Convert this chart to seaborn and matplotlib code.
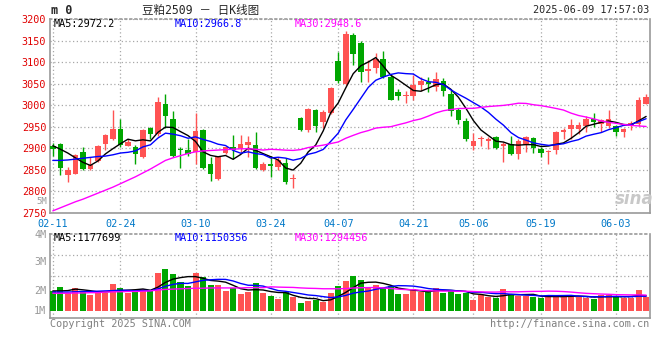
import numpy as np
import pandas as pd
import matplotlib
matplotlib.use("Agg")
import matplotlib.pyplot as plt
import seaborn as sns

# daily K data for 豆粕2509, 2025-02-11 .. 2025-06-09 (80 trading days)
opens = [2905, 2911, 2837, 2841, 2892, 2851, 2870, 2910, 2921, 2946,
         2906, 2904, 2879, 2947, 2933, 3003, 2969, 2899, 2895, 2891,
         2942, 2864, 2828, 2889, 2904, 2900, 2908, 2908, 2850, 2863,
         2857, 2866, 2828, 2971, 2942, 2988, 2962, 2982, 3102, 3049,
         3164, 3144, 3080, 3087, 3108, 3066, 3030, 3022, 3021, 3047,
         3055, 3043, 3056, 3027, 2988, 2963, 2906, 2921, 2918, 2927,
         2906, 2911, 2886, 2908, 2924, 2898, 2891, 2896, 2939, 2944,
         2944, 2952, 2969, 2957, 2952, 2952, 2939, 2952, 2956, 3003]
closes = [2898, 2855, 2849, 2885, 2851, 2862, 2906, 2931, 2946, 2908,
          2915, 2887, 2943, 2933, 3008, 2975, 2883, 2895, 2887, 2940,
          2855, 2841, 2879, 2902, 2896, 2910, 2914, 2855, 2864, 2860,
          2872, 2821, 2831, 2942, 2992, 2952, 2985, 3041, 3056, 3166,
          3118, 3076, 3085, 3108, 3066, 3013, 3021, 3024, 3047, 3057,
          3049, 3061, 3032, 2986, 2965, 2921, 2918, 2923, 2921, 2900,
          2911, 2887, 2918, 2927, 2900, 2889, 2893, 2938, 2943, 2953,
          2953, 2969, 2961, 2965, 2969, 2937, 2944, 2958, 3011, 3020]
highs = [2912, 2913, 2857, 2887, 2902, 2879, 2908, 2934, 2988, 2967,
         2921, 2908, 2944, 2950, 3018, 3027, 2986, 2902, 2921, 2981,
         2946, 2879, 2881, 2904, 2931, 2931, 2929, 2937, 2868, 2883,
         2881, 2877, 2840, 2973, 2994, 2992, 2988, 3043, 3124, 3172,
         3168, 3149, 3105, 3120, 3125, 3070, 3038, 3032, 3070, 3066,
         3066, 3078, 3064, 3036, 2994, 2971, 2935, 2929, 2927, 2929,
         2914, 2929, 2921, 2929, 2927, 2902, 2895, 2940, 2948, 2969,
         2960, 2976, 2981, 2969, 2988, 2953, 2948, 2963, 3018, 3026]
lows = [2882, 2837, 2822, 2840, 2849, 2849, 2868, 2895, 2920, 2902,
        2905, 2864, 2878, 2921, 2929, 2948, 2881, 2855, 2883, 2864,
        2853, 2824, 2826, 2887, 2876, 2891, 2881, 2853, 2847, 2834,
        2849, 2818, 2809, 2940, 2939, 2937, 2947, 2980, 3051, 3046,
        3093, 3053, 3055, 3074, 3063, 3011, 3013, 3005, 3013, 3032,
        3031, 3034, 3021, 2975, 2956, 2918, 2897, 2906, 2899, 2899,
        2868, 2885, 2876, 2891, 2889, 2879, 2863, 2887, 2921, 2921,
        2934, 2939, 2950, 2937, 2948, 2929, 2927, 2942, 2952, 3002]
# volume in millions, as read against the chart's M scale
volumes = [1.98, 2.11, 1.91, 2.06, 1.97, 1.83, 1.91, 1.91, 2.19, 2.06,
           1.91, 1.98, 2.03, 1.98, 2.59, 2.71, 2.54, 2.28, 2.15, 2.59,
           2.43, 2.17, 2.17, 1.97, 2.06, 1.86, 1.94, 2.23, 1.91, 1.80,
           1.70, 1.92, 1.77, 1.57, 1.61, 1.66, 1.58, 1.91, 2.14, 2.30,
           2.47, 2.34, 2.06, 2.17, 2.08, 2.15, 1.86, 1.86, 2.03, 1.94,
           2.00, 2.08, 1.91, 2.00, 1.86, 1.91, 1.66, 1.83, 1.77, 1.74,
           2.03, 1.86, 1.80, 1.80, 1.77, 1.72, 1.80, 1.80, 1.80, 1.80,
           1.77, 1.74, 1.70, 1.83, 1.83, 1.77, 1.74, 1.74, 2.00, 1.77]

# moving-average values before enough history is on screen
ma5_head = [2906, 2898, 2889, 2878]
ma10_head = [2872, 2872, 2873, 2875, 2877, 2879, 2881, 2882, 2885]
ma30_head = [2755, 2762, 2769, 2776, 2782, 2789, 2796, 2803, 2810, 2818,
             2826, 2834, 2843, 2852, 2862, 2872, 2878, 2883, 2888, 2892,
             2894, 2895, 2896, 2897, 2898, 2899, 2899, 2898, 2896]
vma5_head = [1.97, 1.97, 1.98, 2.03]
vma10_head = [1.93, 1.93, 1.93, 1.94, 1.95, 1.95, 1.96, 1.97, 1.98]
vma30_head = [1.89, 1.89, 1.89, 1.90, 1.90, 1.91, 1.91, 1.93, 1.94, 1.94,
              1.95, 1.95, 1.96, 1.97, 2.00, 2.02, 2.03, 2.04, 2.05, 2.06,
              2.06, 2.07, 2.07, 2.07, 2.07, 2.07, 2.08, 2.08, 2.08]

date_pos = [0, 9, 19, 29, 38, 48, 56, 65, 75]
date_labels = ['02-11', '02-24', '03-10', '03-24', '04-07', '04-21', '05-06', '05-19', '06-03']
price_ticks = [2750, 2800, 2850, 2900, 2950, 3000, 3050, 3100, 3150, 3200]


def with_head(values, n, head):
    ma = pd.Series(values, dtype=float).rolling(n).mean()
    ma.iloc[:len(head)] = head
    return ma.values


df = pd.DataFrame({'open': opens, 'close': closes, 'high': highs, 'low': lows, 'vol': volumes})
df['i'] = np.arange(len(df))
df['up'] = df['close'] >= df['open']

RED, GREEN = '#FF5353', '#00A600'
MAC = {'MA5': 'black', 'MA10': '#0000FF', 'MA30': '#FF00FF'}
GRID = '#A8A8A8'

sns.set_style('white')
plt.rcParams['font.family'] = ['DejaVu Sans Mono', 'Noto Sans CJK SC']

W, H = 660, 360
fig = plt.figure(figsize=(W / 100, H / 100), dpi=100)


def rect(l, t, r, b):
    return [l / W, 1 - b / H, (r - l) / W, (b - t) / H]


def px(x, y):
    return x / W, 1 - y / H


ax = fig.add_axes(rect(50.5, 19, 649.5, 213))
axv = fig.add_axes(rect(50.5, 234, 649.5, 318))
xlim = (-0.31, 79.45)

# --- candles
colors = np.where(df['up'], RED, GREEN)
ax.vlines(df['i'], df['low'], df['high'], colors=colors, lw=1, zorder=3)
body = (df['close'] - df['open']).abs().clip(lower=1.5)
ax.bar(df['i'], body, bottom=df[['open', 'close']].min(axis=1), width=0.75,
       color=colors, linewidth=0, zorder=4)

for name, n, head in [('MA5', 5, ma5_head), ('MA10', 10, ma10_head), ('MA30', 30, ma30_head)]:
    sns.lineplot(x=df['i'], y=with_head(closes, n, head), ax=ax, color=MAC[name], lw=1, zorder=5)

ax.set_xlim(*xlim)
ax.set_ylim(2750, 3200)
ax.set_yticks(price_ticks)
ax.set_yticklabels([str(t) for t in price_ticks], color='#E00000', fontsize=7.3)
ax.set_xticks(date_pos)
ax.set_xticklabels(date_labels, color='#0078C8', fontsize=7.3)
ax.tick_params(length=0, pad=3)
ax.tick_params(axis='x', pad=4)
ax.set_xlabel('')
ax.set_ylabel('')
ax.grid(True, color=GRID, ls=(0, (1, 2)), lw=0.9)
for s in ax.spines.values():
    s.set_color('#9A9A9A')
    s.set_linewidth(1.2)
ax.spines['top'].set_linestyle((0, (1, 2)))

# --- volume
vol_base = 1.30
vcolors = np.where(df['up'], RED, GREEN)
axv.bar(df['i'], df['vol'] - vol_base, bottom=vol_base, width=0.8, color=vcolors, linewidth=0, zorder=3)
for name, n, head in [('MA5', 5, vma5_head), ('MA10', 10, vma10_head), ('MA30', 30, vma30_head)]:
    sns.lineplot(x=df['i'], y=with_head(volumes, n, head), ax=axv, color=MAC[name], lw=1, zorder=5)

vlo, vhi = 1.05, 3.90
axv.set_xlim(*xlim)
axv.set_ylim(vlo, vhi)
axv.set_yticks([1.32, 2, 3, 3.9])
axv.set_yticklabels(['1M', '2M', '3M', '4M'], color='#999999', fontsize=7.3)
axv.set_yticks([vlo + (vhi - vlo) * k / 4 for k in (1, 2, 3)], minor=True)
axv.set_xticks(date_pos)
axv.set_xticklabels([])
axv.tick_params(which='both', length=0, pad=3)
axv.set_xlabel('')
axv.set_ylabel('')
axv.grid(True, which='minor', axis='y', color=GRID, ls=(0, (1, 2)), lw=0.9)
axv.grid(True, which='major', axis='x', color=GRID, ls=(0, (1, 2)), lw=0.9)
axv.grid(False, which='major', axis='y')
for s in axv.spines.values():
    s.set_color('#9A9A9A')
    s.set_linewidth(1.2)
axv.spines['top'].set_linestyle((0, (1, 2)))

# --- texts
fs = 7.3
fig.text(*px(51, 10), 'm 0', fontsize=8.5, fontweight='bold', va='center')
fig.text(*px(201, 10), '豆粕2509 － 日K线图', fontsize=8.3, ha='center', va='center')
fig.text(*px(649, 10), '2025-06-09 17:57:03', fontsize=fs, ha='right', va='center')
fig.text(*px(54, 24), 'MA5:2972.2', fontsize=fs, color=MAC['MA5'], va='center')
fig.text(*px(175, 24), 'MA10:2966.8', fontsize=fs, color=MAC['MA10'], va='center')
fig.text(*px(295, 24), 'MA30:2948.6', fontsize=fs, color=MAC['MA30'], va='center')
fig.text(*px(54, 238), 'MA5:1177699', fontsize=fs, color=MAC['MA5'], va='center')
fig.text(*px(175, 238), 'MA10:1150356', fontsize=fs, color=MAC['MA10'], va='center')
fig.text(*px(295, 238), 'MA30:1294456', fontsize=fs, color=MAC['MA30'], va='center')
fig.text(*px(47, 202), '5M', fontsize=6.5, color='#999999', ha='right', va='center')
fig.text(*px(50, 324), 'Copyright 2025 SINA.COM', fontsize=fs, color='#808080', va='center')
fig.text(*px(649, 324), 'http://finance.sina.com.cn', fontsize=fs, color='#808080', ha='right', va='center')
fig.text(*px(634, 199), 'sina', fontsize=12, color='#C8C8C8', ha='center', va='center',
         style='italic', fontweight='bold', family='DejaVu Sans')

fig.savefig('out.png', dpi=100)
